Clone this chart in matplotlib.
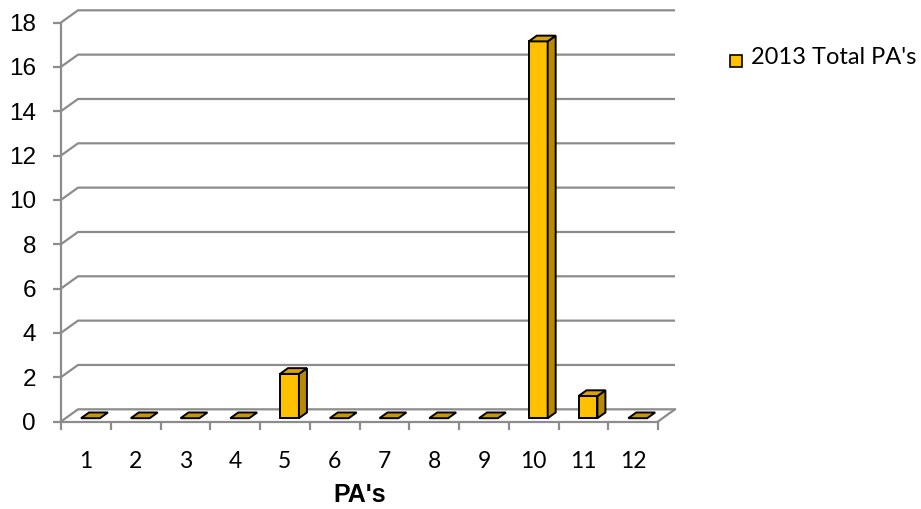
import matplotlib
matplotlib.use("Agg")
import matplotlib.pyplot as plt
from matplotlib.patches import Polygon, Rectangle
from matplotlib.ticker import FixedLocator

# ---------------- data ----------------
categories = ["1", "2", "3", "4", "5", "6", "7", "8", "9", "10", "11", "12"]
values = [0, 0, 0, 0, 2, 0, 0, 0, 0, 17, 1, 0]
series_name = "2013 Total PA's"
y_ticks = [0, 2, 4, 6, 8, 10, 12, 14, 16, 18]
x_title = "PA's"

# ---------------- style ----------------
W, H = 921, 509
grid_col = "#8c8c8c"
face_col = "#FFC000"
top_col = "#D9A400"
side_col = "#B78A00"
edge_col = "#000000"

# wall depth offsets (data units) and bar depth placement
DX, DY = 0.342, 0.55
Z0, Z1 = 0.27, 0.74
BAR_L, BAR_R = 0.31, 0.69   # bar face relative to category start (before depth shift)

fig = plt.figure(figsize=(W / 100, H / 100), dpi=100)
ax = fig.add_axes([61 / W, (H - 421.5) / H, (658 - 61) / W, (421.5 - 22.5) / H])
n = len(categories)
ax.set_xlim(0, n)
ax.set_ylim(0, 18)
ax.set_facecolor("none")

def P(x, y, z):
    return (x + z * DX, y + z * DY)

# back wall gridlines + left diagonals
for t in y_ticks:
    ax.plot([P(0, t, 0)[0], P(0, t, 1)[0], P(n, t, 1)[0]],
            [P(0, t, 0)[1], P(0, t, 1)[1], P(n, t, 1)[1]],
            color=grid_col, lw=1.6, clip_on=False, zorder=1, solid_capstyle="butt")
# floor right edge
ax.plot([P(n, 0, 0)[0], P(n, 0, 1)[0]], [P(n, 0, 0)[1], P(n, 0, 1)[1]],
        color=grid_col, lw=1.6, clip_on=False, zorder=1)

# bars
for i, v in enumerate(values):
    x0, x1 = i + BAR_L, i + BAR_R
    front = [P(x0, 0, Z0), P(x1, 0, Z0), P(x1, v, Z0), P(x0, v, Z0)]
    top = [P(x0, v, Z0), P(x1, v, Z0), P(x1, v, Z1), P(x0, v, Z1)]
    side = [P(x1, 0, Z0), P(x1, 0, Z1), P(x1, v, Z1), P(x1, v, Z0)]
    if v > 0:
        ax.add_patch(Polygon(front, closed=True, fc=face_col, ec=edge_col, lw=1.4,
                             joinstyle="miter", clip_on=False, zorder=3))
        ax.add_patch(Polygon(side, closed=True, fc=side_col, ec=edge_col, lw=1.4,
                             joinstyle="miter", clip_on=False, zorder=3))
    ax.add_patch(Polygon(top, closed=True, fc=top_col if v > 0 else "#C99700",
                         ec=edge_col, lw=1.4, joinstyle="miter", clip_on=False, zorder=3))

# spines: left (front vertical axis) and bottom (floor front edge)
for s in ["top", "right"]:
    ax.spines[s].set_visible(False)
for s in ["left", "bottom"]:
    ax.spines[s].set_color(grid_col)
    ax.spines[s].set_linewidth(1.6)
    ax.spines[s].set_zorder(2)

ax.set_yticks(y_ticks)
ax.set_yticklabels([str(t) for t in y_ticks])
ax.tick_params(axis="y", direction="out", length=6, width=1.6, color=grid_col,
               pad=12, labelsize=17.5)
for lab in ax.get_yticklabels():
    lab.set_fontfamily("Liberation Sans")

ax.set_xticks([i + 0.5 for i in range(n)])
ax.set_xticklabels(categories)
ax.xaxis.set_minor_locator(FixedLocator(list(range(n + 1))))
ax.tick_params(axis="x", which="major", length=0, pad=21, labelsize=16.5)
ax.tick_params(axis="x", which="minor", direction="out", length=6, width=1.6,
               color=grid_col)
for lab in ax.get_xticklabels():
    lab.set_fontfamily("Lato")

ax.set_xlabel(x_title, fontfamily="Liberation Sans", fontweight="bold",
              fontsize=18, labelpad=8)

# legend
fig.patches.append(Rectangle((730 / W, (H - 67) / H), 12 / W, 12 / H,
                             transform=fig.transFigure, fc=face_col, ec=edge_col,
                             lw=1.2, figure=fig))
fig.text(751 / W, (H - 58) / H, series_name, fontfamily="Lato", fontsize=17,
         va="center", ha="left", color="#000000")

fig.savefig("out.png", dpi=100)
